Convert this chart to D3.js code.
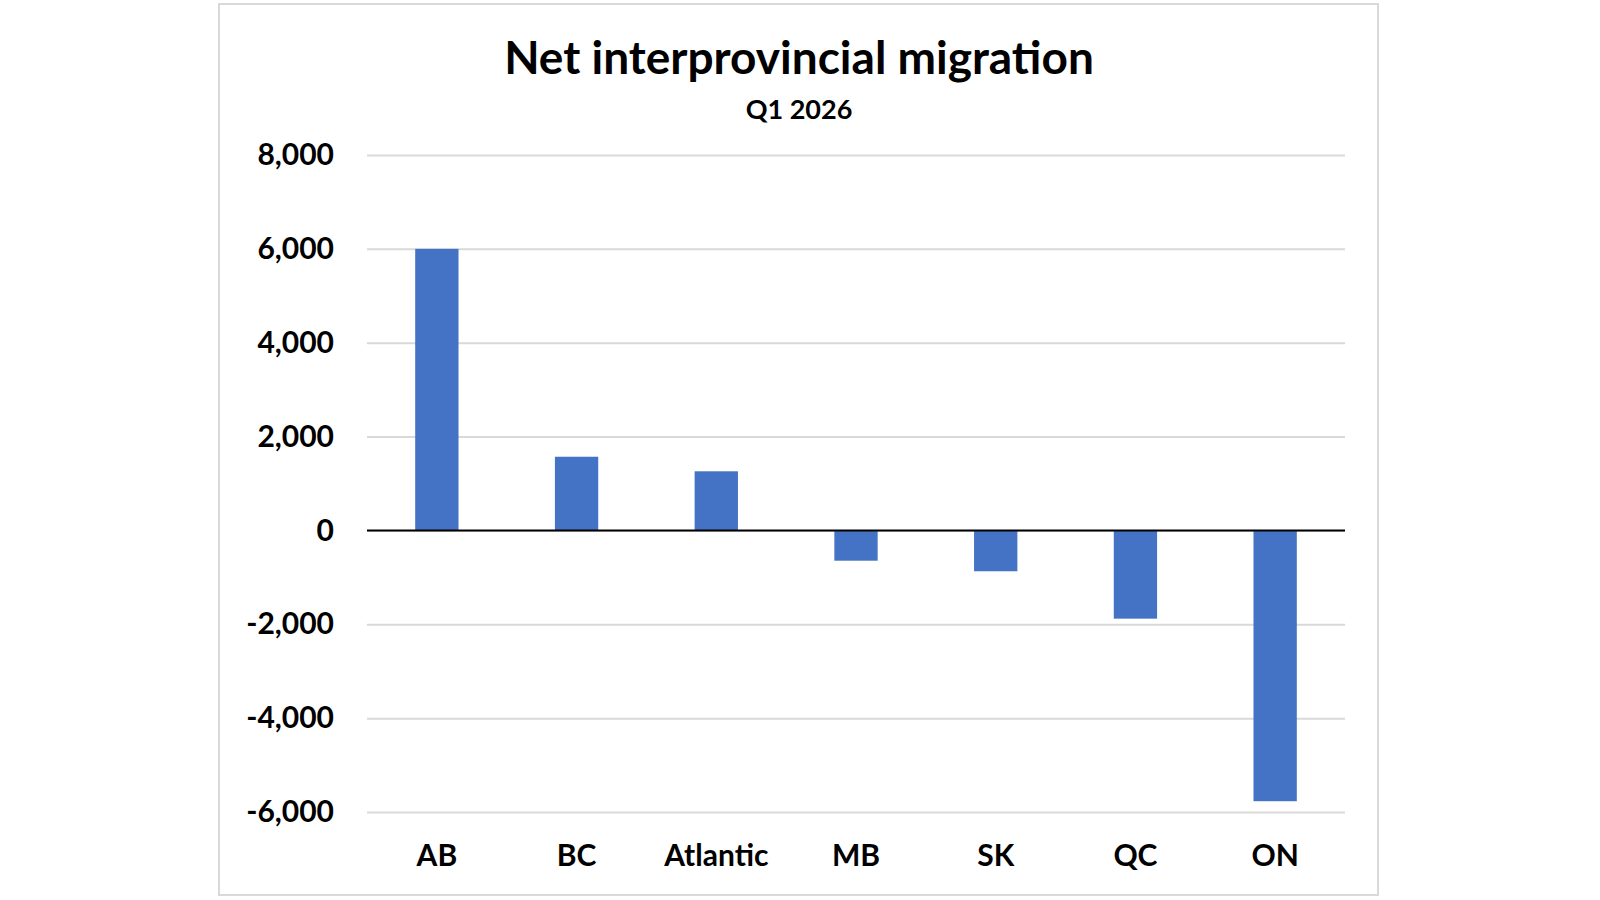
<!DOCTYPE html>
<html>
<head>
<meta charset="utf-8">
<script src="https://cdn.jsdelivr.net/npm/d3@7"></script>
<style>
    body { margin: 0; background: #fff; }
    svg { display: block; font-family: Lato, "Open Sans", sans-serif; }
</style>
</head>
<body>
<svg id="chart" width="1600" height="900"></svg>
<script>
    var categories = ["AB", "BC", "Atlantic", "MB", "SK", "QC", "ON"];
    var values = [6000, 1570, 1260, -645, -870, -1880, -5770];
    var yTicks = [-6000, -4000, -2000, 0, 2000, 4000, 6000, 8000];

    var svg = d3.select("#chart"),
        MARGINS = { top: 155, right: 255, bottom: 88, left: 367 },
        WIDTH = 1600,
        HEIGHT = 900,
        plotRight = WIDTH - MARGINS.right;

    // frame round the chart area
    svg.append("rect")
        .attr("x", 219).attr("y", 4)
        .attr("width", 1159).attr("height", 891)
        .attr("fill", "#fff")
        .attr("stroke", "#d9d9d9")
        .attr("stroke-width", 2);

    var xScale = d3.scaleBand()
        .domain(categories)
        .range([MARGINS.left, plotRight])
        .paddingInner(0.69)
        .paddingOuter(0.345);

    var yScale = d3.scaleLinear()
        .domain([-6000, 8000])
        .range([812, MARGINS.top]);

    // hyphen minus like the original, not the unicode minus
    var fmt = d => d3.format(",")(d).replace("\u2212", "-");

    // gridlines
    svg.append("g")
        .attr("class", "grid")
        .attr("transform", "translate(" + MARGINS.left + ",0)")
        .call(d3.axisLeft(yScale).tickValues(yTicks).tickSize(-(plotRight - MARGINS.left)).tickFormat(""))
        .call(g => g.select(".domain").remove())
        .call(g => g.selectAll("line").attr("stroke", "#d9d9d9").attr("stroke-width", 2));

    // y labels
    svg.append("g")
        .attr("class", "y axis")
        .attr("transform", "translate(" + (MARGINS.left - 33) + ",0)")
        .call(d3.axisLeft(yScale).tickValues(yTicks).tickSize(0).tickPadding(0).tickFormat(fmt))
        .call(g => g.select(".domain").remove())
        .call(g => g.selectAll("text")
            .attr("font-size", 30)
            .attr("font-weight", "bold")
            .attr("font-family", "Lato, sans-serif")
            .attr("fill", "#000"));

    // bars
    svg.append("g")
        .selectAll("rect")
        .data(values)
        .join("rect")
        .attr("x", (d, i) => xScale(categories[i]))
        .attr("width", xScale.bandwidth())
        .attr("y", d => yScale(Math.max(0, d)))
        .attr("height", d => Math.abs(yScale(d) - yScale(0)))
        .attr("fill", "#4472c4");

    // zero line
    svg.append("line")
        .attr("x1", MARGINS.left).attr("x2", plotRight)
        .attr("y1", yScale(0)).attr("y2", yScale(0))
        .attr("stroke", "#000").attr("stroke-width", 2);

    // category labels
    svg.append("g")
        .attr("class", "x axis")
        .attr("transform", "translate(0,866)")
        .call(d3.axisBottom(xScale).tickSize(0).tickPadding(0))
        .call(g => g.select(".domain").remove())
        .call(g => g.selectAll("text")
            .attr("dy", 0)
            .attr("font-size", 30)
            .attr("font-weight", "bold")
            .attr("font-family", "Lato, sans-serif")
            .attr("fill", "#000"));

    // titles
    svg.append("text")
        .attr("x", 799).attr("y", 74)
        .attr("text-anchor", "middle")
        .attr("font-size", 46)
        .attr("font-weight", "bold")
        .text("Net interprovincial migration");

    svg.append("text")
        .attr("x", 799).attr("y", 119)
        .attr("text-anchor", "middle")
        .attr("font-size", 27)
        .attr("font-weight", "bold")
        .text("Q1 2026");
</script>
</body>
</html>
